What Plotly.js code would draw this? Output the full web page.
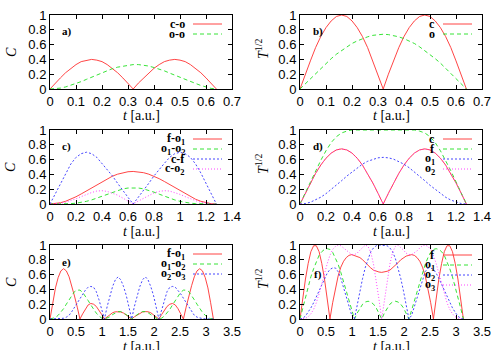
<!DOCTYPE html>
<html>
<head>
<meta charset="utf-8">
<script src="https://cdn.plot.ly/plotly-3.0.1.min.js"></script>
<style>
body { margin: 0; background: #fff; }
#chart { width: 500px; height: 350px; }
</style>
</head>
<body>
<div id="chart"></div>
<script>
// time grids [a.u.]
var t1 = [0,0.02,0.04,0.06,0.08,0.1,0.12,0.14,0.16,0.18,0.2,0.22,0.24,0.26,0.28,0.3,0.32,0.34,0.36,0.38,0.4,0.42,0.44,0.46,0.48,0.5,0.52,0.54,0.56,0.58,0.6,0.62,0.64];
var t2 = [0,0.04,0.08,0.12,0.16,0.2,0.24,0.28,0.32,0.36,0.4,0.44,0.48,0.52,0.56,0.6,0.64,0.68,0.72,0.76,0.8,0.84,0.88,0.92,0.96,1,1.04,1.08,1.12,1.16,1.2,1.24,1.28];
var t3 = [0,0.052,0.105,0.157,0.209,0.262,0.314,0.367,0.419,0.471,0.524,0.576,0.628,0.681,0.733,0.785,0.838,0.89,0.942,0.995,1.047,1.1,1.152,1.204,1.257,1.309,1.361,1.414,1.466,1.518,1.571,1.623,1.676,1.728,1.78,1.833,1.885,1.937,1.99,2.042,2.094,2.147,2.199,2.251,2.304,2.356,2.409,2.461,2.513,2.566,2.618,2.67,2.723,2.775,2.827,2.88,2.932,2.985,3.037,3.089,3.142];

// a) concurrence
var aCO = [0,0.08,0.15,0.22,0.28,0.33,0.37,0.39,0.4,0.39,0.37,0.33,0.28,0.22,0.15,0.08,0,0.08,0.15,0.22,0.28,0.33,0.37,0.39,0.4,0.39,0.37,0.33,0.28,0.22,0.15,0.08,0];
var aOO = [0,0.003,0.012,0.028,0.05,0.075,0.1,0.13,0.16,0.19,0.22,0.25,0.275,0.295,0.31,0.325,0.33,0.33,0.325,0.31,0.29,0.27,0.245,0.215,0.185,0.165,0.135,0.105,0.075,0.048,0.025,0.008,0];
// b) T^1/2
var bC = [0,0.2,0.38,0.56,0.71,0.83,0.92,0.98,1,0.98,0.92,0.83,0.71,0.56,0.38,0.2,0,0.2,0.38,0.56,0.71,0.83,0.92,0.98,1,0.98,0.92,0.83,0.71,0.56,0.38,0.2,0];
var bO = [0,0.07,0.14,0.21,0.28,0.35,0.41,0.47,0.52,0.57,0.615,0.65,0.68,0.705,0.725,0.735,0.74,0.735,0.725,0.705,0.68,0.65,0.615,0.57,0.52,0.47,0.41,0.35,0.28,0.21,0.14,0.07,0];

// c) concurrence
var cFO1 = [0,0.004,0.017,0.037,0.064,0.098,0.136,0.177,0.22,0.263,0.304,0.342,0.376,0.403,0.423,0.436,0.44,0.436,0.423,0.403,0.376,0.342,0.304,0.263,0.22,0.177,0.136,0.098,0.064,0.037,0.017,0.004,0];
var cO1O2 = [0,0,0.001,0.002,0.005,0.011,0.021,0.036,0.055,0.079,0.105,0.133,0.16,0.185,0.204,0.216,0.22,0.216,0.204,0.185,0.16,0.133,0.105,0.079,0.055,0.036,0.021,0.011,0.005,0.002,0.001,0,0];
var cCF = [0,0.14,0.28,0.42,0.54,0.63,0.68,0.7,0.68,0.63,0.55,0.47,0.38,0.28,0.18,0.09,0,0.09,0.18,0.28,0.38,0.47,0.55,0.63,0.68,0.7,0.68,0.63,0.54,0.42,0.28,0.14,0];
var cCO2 = [0,0.002,0.01,0.025,0.045,0.07,0.1,0.13,0.155,0.175,0.18,0.17,0.15,0.12,0.08,0.04,0,0.04,0.08,0.12,0.15,0.17,0.18,0.175,0.155,0.13,0.1,0.07,0.045,0.025,0.01,0.002,0];
// d) T^1/2
var dC = [0,0.145,0.285,0.414,0.527,0.619,0.688,0.731,0.745,0.731,0.688,0.619,0.527,0.414,0.285,0.145,0,0.145,0.285,0.414,0.527,0.619,0.688,0.731,0.745,0.731,0.688,0.619,0.527,0.414,0.285,0.145,0];
var dF = [0,0.15,0.3,0.45,0.59,0.72,0.83,0.91,0.96,0.985,1,1,1,1,1,1,1,1,1,1,1,1,1,0.985,0.96,0.91,0.83,0.72,0.59,0.45,0.3,0.15,0];
var dO1 = [0,0.006,0.024,0.053,0.092,0.14,0.195,0.253,0.315,0.377,0.435,0.49,0.538,0.577,0.606,0.624,0.63,0.624,0.606,0.577,0.538,0.49,0.435,0.377,0.315,0.253,0.195,0.14,0.092,0.053,0.024,0.006,0];
var dO2 = [0,0.145,0.285,0.414,0.527,0.619,0.688,0.731,0.745,0.731,0.688,0.619,0.527,0.414,0.285,0.145,0,0.145,0.285,0.414,0.527,0.619,0.688,0.731,0.745,0.731,0.688,0.619,0.527,0.414,0.285,0.145,0];

// e) concurrence
var eFO1 = [0,0.22,0.42,0.56,0.65,0.68,0.65,0.57,0.45,0.31,0.16,0,0.07,0.14,0.19,0.21,0.2,0.17,0.12,0.06,0,0.03,0.06,0.085,0.098,0.1,0.095,0.08,0.055,0.03,0,0.03,0.055,0.08,0.095,0.1,0.098,0.085,0.06,0.03,0,0.06,0.12,0.17,0.2,0.21,0.19,0.14,0.07,0,0.16,0.31,0.45,0.57,0.65,0.68,0.65,0.56,0.42,0.22,0];
var eO1O2 = [0,0.005,0.02,0.05,0.09,0.14,0.2,0.26,0.32,0.37,0.39,0.39,0.36,0.31,0.25,0.19,0.13,0.08,0.04,0.012,0,0.01,0.03,0.06,0.085,0.1,0.1,0.085,0.06,0.03,0,0.03,0.06,0.085,0.1,0.1,0.085,0.06,0.03,0.01,0,0.012,0.04,0.08,0.13,0.19,0.25,0.31,0.36,0.39,0.39,0.37,0.32,0.26,0.2,0.14,0.09,0.05,0.02,0.005,0];
var eO2O3 = [0,0,0,0.002,0.005,0.01,0.025,0.05,0.1,0.16,0.22,0.28,0.34,0.39,0.43,0.44,0.43,0.37,0.26,0.12,0,0.17,0.32,0.44,0.53,0.57,0.53,0.44,0.32,0.17,0,0.17,0.32,0.44,0.53,0.57,0.53,0.44,0.32,0.17,0,0.12,0.26,0.37,0.43,0.44,0.43,0.39,0.34,0.28,0.22,0.16,0.1,0.05,0.025,0.01,0.005,0.002,0,0,0];
// f) T^1/2
var fF = [0,0.28,0.54,0.75,0.91,0.99,0.99,0.91,0.75,0.54,0.28,0,0.22,0.42,0.58,0.7,0.78,0.83,0.86,0.87,0.86,0.85,0.83,0.8,0.76,0.72,0.69,0.66,0.645,0.635,0.63,0.635,0.645,0.66,0.69,0.72,0.76,0.8,0.83,0.85,0.86,0.87,0.86,0.83,0.78,0.7,0.58,0.42,0.22,0,0.28,0.54,0.75,0.91,0.99,0.99,0.91,0.75,0.54,0.28,0];
var fO1 = [0,0.15,0.3,0.44,0.57,0.68,0.78,0.86,0.91,0.94,0.95,0.94,0.9,0.83,0.74,0.63,0.5,0.37,0.24,0.12,0,0.08,0.15,0.2,0.23,0.24,0.23,0.2,0.15,0.08,0,0.08,0.15,0.2,0.23,0.24,0.23,0.2,0.15,0.08,0,0.12,0.24,0.37,0.5,0.63,0.74,0.83,0.9,0.94,0.95,0.94,0.91,0.86,0.78,0.68,0.57,0.44,0.3,0.15,0];
var fO2 = [0,0.01,0.04,0.09,0.15,0.22,0.3,0.39,0.47,0.55,0.62,0.67,0.69,0.69,0.64,0.55,0.43,0.3,0.17,0.05,0,0.2,0.38,0.55,0.7,0.82,0.91,0.96,0.99,1,1,1,0.99,0.96,0.91,0.82,0.7,0.55,0.38,0.2,0,0.05,0.17,0.3,0.43,0.55,0.64,0.69,0.69,0.67,0.62,0.55,0.47,0.39,0.3,0.22,0.15,0.09,0.04,0.01,0];
var fO3 = [0,0,0.01,0.03,0.07,0.13,0.22,0.34,0.48,0.62,0.75,0.86,0.94,0.98,1,0.99,0.96,0.92,0.89,0.87,0.87,0.89,0.93,0.97,1,0.98,0.9,0.74,0.52,0.27,0,0.27,0.52,0.74,0.9,0.98,1,0.97,0.93,0.89,0.87,0.87,0.89,0.92,0.96,0.99,1,0.98,0.94,0.86,0.75,0.62,0.48,0.34,0.22,0.13,0.07,0.03,0.01,0,0];

var RED = '#ff3030', GREEN = '#20e020', BLUE = '#3030ff', MAG = '#ff30ff';
var DASH = {red: 'solid', green: '4px,3px', blue: '2px,2px', mag: '1px,2px'};

function line(x, y, n, color, dash) {
    return {
        x: x, y: y,
        xaxis: 'x' + (n > 1 ? n : ''), yaxis: 'y' + (n > 1 ? n : ''),
        mode: 'lines', type: 'scatter',
        line: {color: color, width: 0.9, dash: dash},
        hoverinfo: 'skip', showlegend: false
    };
}

var data = [
    line(t1, aCO, 1, RED, DASH.red),
    line(t1, aOO, 1, GREEN, DASH.green),
    line(t1, bC, 2, RED, DASH.red),
    line(t1, bO, 2, GREEN, DASH.green),
    line(t2, cFO1, 3, RED, DASH.red),
    line(t2, cO1O2, 3, GREEN, DASH.green),
    line(t2, cCF, 3, BLUE, DASH.blue),
    line(t2, cCO2, 3, MAG, DASH.mag),
    line(t2, dC, 4, RED, DASH.red),
    line(t2, dF, 4, GREEN, DASH.green),
    line(t2, dO1, 4, BLUE, DASH.blue),
    line(t2, dO2, 4, MAG, DASH.mag),
    line(t3, eFO1, 5, RED, DASH.red),
    line(t3, eO1O2, 5, GREEN, DASH.green),
    line(t3, eO2O3, 5, BLUE, DASH.blue),
    line(t3, fF, 6, RED, DASH.red),
    line(t3, fO1, 6, GREEN, DASH.green),
    line(t3, fO2, 6, BLUE, DASH.blue),
    line(t3, fO3, 6, MAG, DASH.mag)
];

// pixel -> paper helpers (margins are zero, so paper = whole figure)
function px(x) { return x / 500; }
function py(y) { return 1 - y / 350; }

var tickFont = {family: 'Liberation Sans, Arial, sans-serif', size: 13, color: '#000'};
function axis(domain, anchor, range, dtick) {
    return {
        domain: domain, anchor: anchor, range: range, dtick: dtick, tick0: 0,
        showline: true, linecolor: '#000', linewidth: 1, mirror: 'ticks',
        ticks: 'inside', ticklen: 4, tickcolor: '#000', tickwidth: 1,
        showgrid: false, zeroline: false, tickfont: tickFont, fixedrange: true
    };
}

var colL = [px(50), px(232)], colR = [px(300), px(482)];
var row1 = [py(89), py(15)], row2 = [py(204), py(130)], row3 = [py(319), py(245)];

var serif = 'Liberation Serif, Times New Roman, serif';
var annotations = [];
var shapes = [];
function note(text, x, y, opts) {
    var a = {text: text, x: px(x), y: py(y), xref: 'paper', yref: 'paper',
        showarrow: false, xanchor: 'center', yanchor: 'middle',
        font: {family: serif, size: 14, color: '#000'}};
    for (var k in opts) a[k] = opts[k];
    annotations.push(a);
}

// axis titles
[52, 167, 282].forEach(function(y) {
    note('<i>C</i>', 11, y, {textangle: -90});
    note('<i>T</i><sup>1/2</sup>', 262, y - 3, {textangle: -90});
});
[116, 231, 346].forEach(function(y) {
    note('<i>t</i> [a.u.]', 141, y);
    note('<i>t</i> [a.u.]', 391, y);
});

// panel labels
var lab = {family: serif, size: 11, color: '#000'};
note('<b>a)</b>', 60, 32, {xanchor: 'left', font: lab});
note('<b>b)</b>', 311, 32, {xanchor: 'left', font: lab});
note('<b>c)</b>', 60, 147, {xanchor: 'left', font: lab});
note('<b>d)</b>', 311, 147, {xanchor: 'left', font: lab});
note('<b>e)</b>', 60, 262, {xanchor: 'left', font: lab});
note('<b>f)</b>', 312, 274, {xanchor: 'left', font: lab});

// gnuplot-style keys: label then sample line
var keyFont = {family: serif, size: 12, color: '#000'};
function key(label, xr, y, color, dash) {
    note('<b>' + label + '</b>', xr, y, {xanchor: 'right', font: keyFont});
    shapes.push({type: 'line', xref: 'paper', yref: 'paper',
        x0: px(xr + 6), x1: px(xr + 35), y0: py(y), y1: py(y),
        line: {color: color, width: 0.9, dash: dash}});
}
key('c-o', 187, 24, RED, DASH.red);
key('o-o', 187, 34, GREEN, DASH.green);
key('c', 437, 24, RED, DASH.red);
key('o', 437, 34, GREEN, DASH.green);
key('f-o<sub>1</sub>', 187, 139, RED, DASH.red);
key('o<sub>1</sub>-o<sub>2</sub>', 187, 149, GREEN, DASH.green);
key('c-f', 187, 159, BLUE, DASH.blue);
key('c-o<sub>2</sub>', 187, 169, MAG, DASH.mag);
key('c', 437, 139, RED, DASH.red);
key('f', 437, 149, GREEN, DASH.green);
key('o<sub>1</sub>', 437, 159, BLUE, DASH.blue);
key('o<sub>2</sub>', 437, 169, MAG, DASH.mag);
key('f-o<sub>1</sub>', 187, 254, RED, DASH.red);
key('o<sub>1</sub>-o<sub>2</sub>', 187, 264, GREEN, DASH.green);
key('o<sub>2</sub>-o<sub>3</sub>', 187, 274, BLUE, DASH.blue);
key('f', 437, 255, RED, DASH.red);
key('o<sub>1</sub>', 437, 265, GREEN, DASH.green);
key('o<sub>2</sub>', 437, 275, BLUE, DASH.blue);
key('o<sub>3</sub>', 437, 285, MAG, DASH.mag);

var layout = {
    width: 500, height: 350,
    margin: {l: 0, r: 0, t: 0, b: 0},
    paper_bgcolor: '#fff', plot_bgcolor: '#fff',
    showlegend: false,
    xaxis: axis(colL, 'y', [0, 0.7], 0.1),
    yaxis: axis(row1, 'x', [0, 1], 0.2),
    xaxis2: axis(colR, 'y2', [0, 0.7], 0.1),
    yaxis2: axis(row1, 'x2', [0, 1], 0.2),
    xaxis3: axis(colL, 'y3', [0, 1.4], 0.2),
    yaxis3: axis(row2, 'x3', [0, 1], 0.2),
    xaxis4: axis(colR, 'y4', [0, 1.4], 0.2),
    yaxis4: axis(row2, 'x4', [0, 1], 0.2),
    xaxis5: axis(colL, 'y5', [0, 3.5], 0.5),
    yaxis5: axis(row3, 'x5', [0, 1], 0.2),
    xaxis6: axis(colR, 'y6', [0, 3.5], 0.5),
    yaxis6: axis(row3, 'x6', [0, 1], 0.2),
    annotations: annotations,
    shapes: shapes
};

Plotly.newPlot('chart', data, layout, {displayModeBar: false, staticPlot: true});
</script>
</body>
</html>
